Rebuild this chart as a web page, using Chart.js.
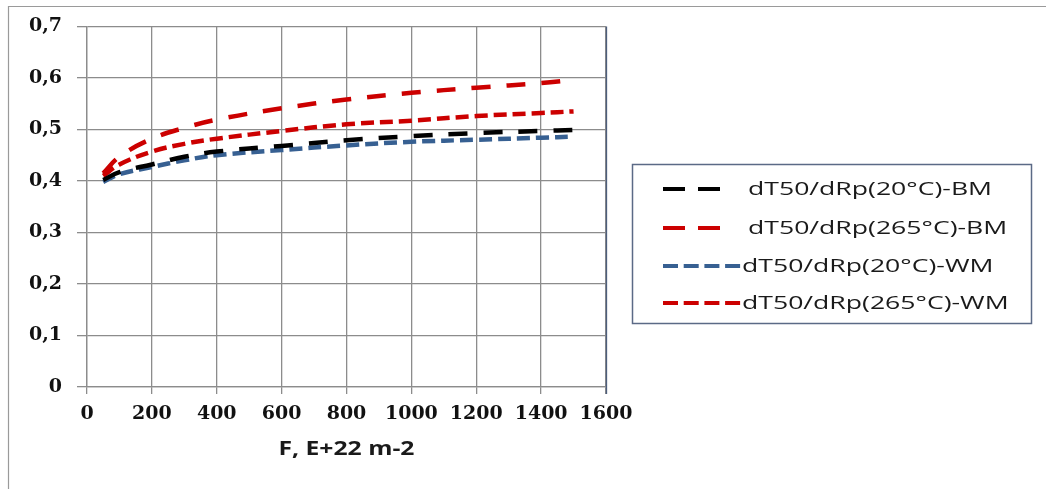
<!DOCTYPE html>
<html>
<head>
<meta charset="utf-8">
<script src="https://cdn.jsdelivr.net/npm/chart.js@4.4.1/dist/chart.umd.min.js"></script>
<style>
  html, body { margin: 0; padding: 0; background: #fff; }
  #wrap { width: 1046px; height: 489px; }
</style>
</head>
<body>
<div id="wrap"><canvas id="chart" width="1046" height="489"></canvas></div>
<script>
// Valeurs
const fluence = [50, 100, 200, 300, 400, 600, 800, 1000, 1200, 1400, 1500];
const bm20 = [0.402, 0.417, 0.432, 0.447, 0.457, 0.468, 0.479, 0.487, 0.493, 0.497, 0.499];
const bm265 = [0.415, 0.447, 0.482, 0.503, 0.519, 0.541, 0.558, 0.571, 0.581, 0.590, 0.596];
const wm20 = [0.398, 0.413, 0.427, 0.440, 0.450, 0.460, 0.469, 0.476, 0.480, 0.484, 0.486];
const wm265 = [0.410, 0.432, 0.457, 0.472, 0.482, 0.497, 0.510, 0.517, 0.526, 0.532, 0.535];
const seriesLabels = ["dT50/dRp(20°C)-BM", "dT50/dRp(265°C)-BM", "dT50/dRp(20°C)-WM", "dT50/dRp(265°C)-WM"];
const xMin = 0, xMax = 1600, xStep = 200;
const yMin = 0, yMax = 0.7, yStep = 0.1;
const xTitle = "F, E+22 m-2";

const RED = "#cc0000";
const BLUE = "#376092";

function points(values) {
  return fluence.map(function (f, i) { return { x: f, y: values[i] }; });
}

function makeSet(label, values, color, longDash) {
  return {
    label: label,
    data: points(values),
    borderColor: color,
    borderWidth: 4.5,
    borderDash: longDash ? [19, 16] : [13, 6],
    longDash: longDash,
    pointRadius: 0,
    tension: 0.4
  };
}

// texte étiré horizontalement (la police d'origine est plus large)
function drawStretched(ctx, text, x, y, sx, align) {
  ctx.save();
  ctx.translate(x, y);
  ctx.scale(sx, 1);
  ctx.textAlign = align;
  ctx.fillText(text, 0, 0);
  ctx.restore();
}

const framePlugin = {
  id: "framePlugin",
  beforeDraw(chart) {
    const ctx = chart.ctx;
    ctx.save();
    ctx.strokeStyle = "#9a9a9a";
    ctx.lineWidth = 1.2;
    ctx.beginPath();
    ctx.moveTo(8.5, 489);
    ctx.lineTo(8.5, 6.5);
    ctx.lineTo(1046, 6.5);
    ctx.stroke();
    ctx.restore();
  },
  afterDraw(chart) {
    const ctx = chart.ctx;
    const area = chart.chartArea;
    ctx.save();

    // bord droit de la zone de tracé
    const xr = Math.round(chart.scales.x.getPixelForValue(xMax)) + 0.5;
    ctx.strokeStyle = "#4d5e7c";
    ctx.lineWidth = 1.3;
    ctx.beginPath();
    ctx.moveTo(xr, area.top);
    ctx.lineTo(xr, area.bottom + 7);
    ctx.stroke();

    // titre de l'axe x
    ctx.fillStyle = "#1a1a1a";
    ctx.font = "bold 19px 'Open Sans'";
    ctx.textBaseline = "middle";
    drawStretched(ctx, xTitle, (area.left + area.right) / 2, 450, 1.3, "center");

    // légende
    const box = { left: 632, top: 164, right: 1031, bottom: 323 };
    ctx.strokeStyle = "#5b6a86";
    ctx.lineWidth = 1.5;
    ctx.strokeRect(box.left + 0.5, box.top + 0.5, box.right - box.left, box.bottom - box.top);

    const rowsY = [189, 228, 266, 303];
    chart.data.datasets.forEach(function (ds, i) {
      const y = rowsY[i];
      const isLong = ds.longDash;
      ctx.strokeStyle = ds.borderColor;
      ctx.lineWidth = 4;
      ctx.setLineDash(isLong ? [22, 13] : [15, 5.7]);
      ctx.beginPath();
      ctx.moveTo(663, y);
      ctx.lineTo(isLong ? 720 : 741, y);
      ctx.stroke();
      ctx.setLineDash([]);
      ctx.fillStyle = "#1a1a1a";
      ctx.font = "19px 'Open Sans'";
      ctx.textBaseline = "middle";
      drawStretched(ctx, ds.label, isLong ? 748 : 742, y + 1, 1.4, "left");
    });
    ctx.restore();
  }
};

new Chart(document.getElementById("chart"), {
  type: "line",
  data: {
    datasets: [
      makeSet(seriesLabels[0], bm20, "#000000", true),
      makeSet(seriesLabels[1], bm265, RED, true),
      makeSet(seriesLabels[2], wm20, BLUE, false),
      makeSet(seriesLabels[3], wm265, RED, false)
    ]
  },
  options: {
    responsive: false,
    animation: false,
    layout: { padding: { top: 23, right: 440 } },
    plugins: { legend: { display: false } },
    scales: {
      x: {
        type: "linear",
        min: xMin,
        max: xMax,
        afterFit: function (scale) { scale.height = 102; },
        grid: { color: "#8c8c8c", lineWidth: 1.3, tickLength: 7 },
        border: { color: "#8c8c8c", width: 1.3 },
        ticks: {
          stepSize: xStep,
          color: "#111111",
          font: { family: "'DejaVu Serif'", weight: "bold", size: 19 },
          padding: 9,
          maxRotation: 0,
          autoSkip: false,
          callback: function (v) { return String(v); }
        }
      },
      y: {
        min: yMin,
        max: yMax,
        afterFit: function (scale) { scale.width = 87; },
        grid: { color: "#8c8c8c", lineWidth: 1.3, tickLength: 10 },
        border: { color: "#8c8c8c", width: 1.3 },
        ticks: {
          stepSize: yStep,
          color: "#111111",
          font: { family: "'DejaVu Serif'", weight: "bold", size: 19 },
          padding: 15,
          callback: function (v) { return v === 0 ? "0" : v.toFixed(1).replace(".", ","); }
        }
      }
    }
  },
  plugins: [framePlugin]
});
</script>
</body>
</html>
